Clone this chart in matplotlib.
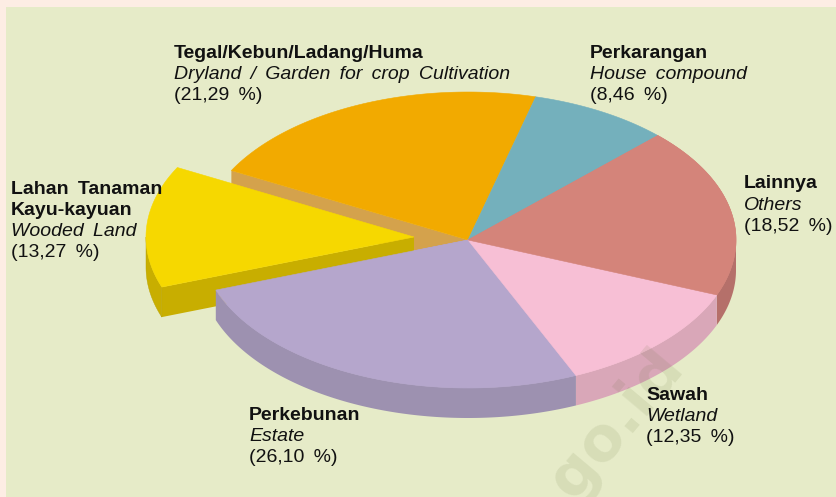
import numpy as np
import matplotlib.pyplot as plt
from matplotlib.patches import Polygon, Rectangle

plt.rcParams["font.family"] = ["Liberation Sans", "DejaVu Sans"]

# clockwise from the upper left edge of the dryland slice
names = ["Tegal/Kebun/Ladang/Huma", "Perkarangan", "Lainnya", "Sawah", "Perkebunan", "Lahan Tanaman\nKayu-kayuan"]
names_en = ["Dryland / Garden for crop Cultivation", "House compound", "Others", "Wetland", "Estate", "Wooded Land"]
shares = [21.29, 8.46, 18.52, 12.35, 26.10, 13.27]
top_colors = ["#F2AA00", "#74B0BC", "#D4847A", "#F7BFD5", "#B5A6CC", "#F6D800"]
side_colors = ["#D4A24C", "#5F919B", "#B5706A", "#D9A7B8", "#9D91B0", "#C8AE00"]
label_pos = [(174, 53), (590, 53), (744, 184), (646, 395), (249, 415), (11, 189)]

CX, CY = 468, 240
RX, RY = 268, 148
DEPTH = 30
START = 152
EXPLODE = (-54, -3)
FS = 14
LINE = 21.3


def rim(deg, off=(0, 0)):
    t = np.radians(deg)
    return np.column_stack([CX + off[0] + RX * np.cos(t), CY + off[1] - RY * np.sin(t)])


def top_poly(a0, a1, off=(0, 0)):
    arc = rim(np.linspace(a0, a1, 120), off)
    return np.vstack([[CX + off[0], CY + off[1]], arc])


def outer_wall(a0, a1, off=(0, 0)):
    # only the part of the rim on the lower half faces the viewer
    pts = []
    for lo, hi in [(-180, 0), (180, 360)]:
        s, e = max(min(a0, a1), lo), min(max(a0, a1), hi)
        if s < e:
            pts.append(np.linspace(s, e, 120))
    if not pts:
        return None
    arc = rim(pts[0], off)
    return np.vstack([arc, arc[::-1] + [0, DEPTH]])


def cut_wall(a, off=(0, 0)):
    p = rim(np.array([a]), off)[0]
    c = np.array([CX + off[0], CY + off[1]])
    return np.array([p, c, c + [0, DEPTH], p + [0, DEPTH]])


def wide(s):
    # the original sets its word gaps wider than the font does
    return s.replace(" ", " \u2009")


fig = plt.figure(figsize=(8.37, 4.97), dpi=100, facecolor="#FDEDE4")
ax = fig.add_axes([0, 0, 1, 1])
ax.set_xlim(0, 837)
ax.set_ylim(497, 0)
ax.axis("off")
ax.add_patch(Rectangle((6, 7), 831, 490, fc="#E6EBC8", ec="none", zorder=0))

# slice limits, going clockwise
edges = START - np.cumsum([0] + shares) * 360 / sum(shares)

# the wall left open by the pulled out slice
ax.add_patch(Polygon(cut_wall(edges[0]), fc=side_colors[0], ec="none", zorder=1))

# slices that stay in place
for i in range(5):
    ax.add_patch(Polygon(top_poly(edges[i], edges[i + 1]), fc=top_colors[i], ec=top_colors[i], lw=0.4, zorder=2))

# pulled out slice
a0, a1 = edges[5], edges[6]
ax.add_patch(Polygon(cut_wall(a0, EXPLODE), fc=side_colors[5], ec="none", zorder=3))
wall = outer_wall(a0, a1, EXPLODE)
if wall is not None:
    ax.add_patch(Polygon(wall, fc=side_colors[5], ec="#B8A000", lw=0.3, zorder=3))
ax.add_patch(Polygon(top_poly(a0, a1, EXPLODE), fc=top_colors[5], ec=top_colors[5], lw=0.4, zorder=4))

# front walls
for i in range(5):
    wall = outer_wall(edges[i], edges[i + 1])
    if wall is not None:
        ax.add_patch(Polygon(wall, fc=side_colors[i], ec="none", zorder=5))
ax.add_patch(Polygon(top_poly(edges[4], edges[5]), fc=top_colors[4], ec=top_colors[4], lw=0.4, zorder=6))
ax.add_patch(Polygon(top_poly(edges[3], edges[4]), fc=top_colors[3], ec=top_colors[3], lw=0.4, zorder=6))
ax.add_patch(Polygon(top_poly(edges[2], edges[3]), fc=top_colors[2], ec=top_colors[2], lw=0.4, zorder=6))

# labels
for name, en, val, (x, y) in zip(names, names_en, shares, label_pos):
    for part in name.split("\n"):
        ax.text(x, y, wide(part), fontsize=FS, fontweight="bold", color="#111111", va="center", zorder=8)
        y += LINE
    ax.text(x, y, wide(en), fontsize=FS, style="italic", color="#111111", va="center", zorder=8)
    y += LINE
    ax.text(x, y, wide(f"({val:.2f} %)".replace(".", ",")), fontsize=FS, color="#111111", va="center", zorder=8)

# watermark, only the end of it falls inside the picture
ax.text(608, 430, ".go.id", fontsize=44, fontweight="bold", family="DejaVu Sans", color="#5A6A30", alpha=0.11,
        rotation=50, rotation_mode="anchor", ha="center", va="center", zorder=7)

fig.savefig("out.png", dpi=100, facecolor=fig.get_facecolor())
